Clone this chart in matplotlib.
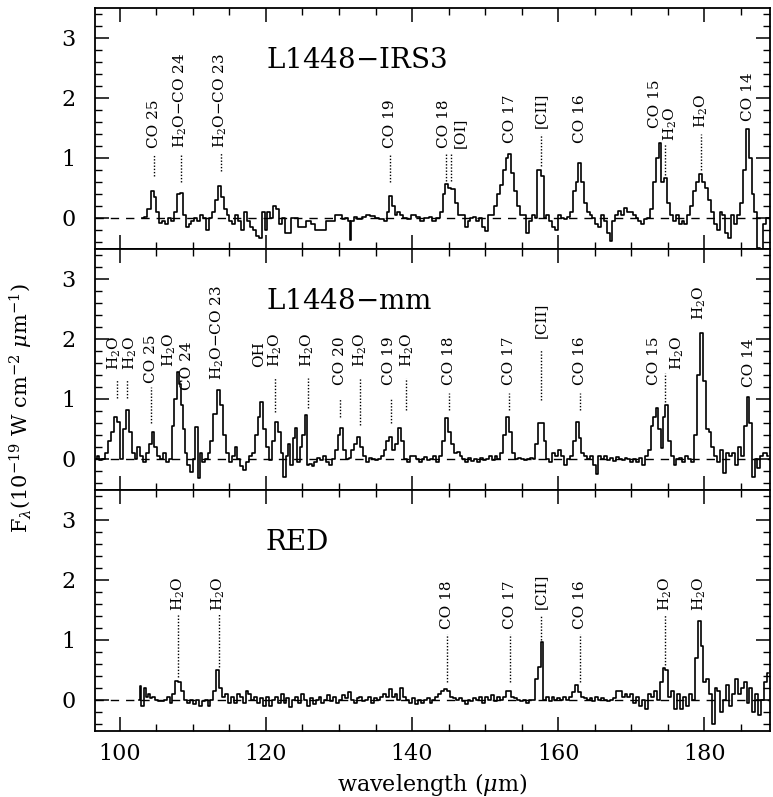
import matplotlib
matplotlib.use('Agg')
import matplotlib.pyplot as plt
from matplotlib.ticker import MultipleLocator

plt.rcParams['font.family'] = 'DejaVu Serif'
plt.rcParams['mathtext.fontset'] = 'dejavuserif'

# ---- spectra (wavelength in micron, flux in 1e-19 W cm-2 um-1) ----
irs3_wl = [103.0, 103.5, 104.0, 104.4, 104.8, 105.2, 105.6, 106.0, 106.4, 106.8, 107.2, 107.6, 108.0, 108.4,
           108.8, 109.2, 109.6, 110.0, 110.4, 110.8, 111.2, 111.6, 112.0, 112.4, 112.8, 113.2, 113.6, 114.0,
           114.4, 114.8, 115.2, 115.6, 116.0, 116.4, 116.8, 117.2, 117.6, 118.0, 118.4, 118.8, 119.2, 119.6,
           120.0, 120.4, 120.8, 121.2, 121.6, 122.0, 122.4, 122.8, 123.2, 123.6, 124.2, 124.6, 125.2, 125.8,
           126.4, 127.0, 127.8, 128.6, 129.2, 129.8, 130.2, 130.6, 131.0, 131.4, 131.6, 131.8, 132.2, 132.8,
           133.4, 134.0, 134.6, 135.2, 135.8, 136.4, 136.8, 137.0, 137.4, 137.8, 138.2, 138.6, 139.0, 139.6,
           140.2, 140.8, 141.4, 142.0, 142.6, 143.0, 143.6, 144.0, 144.4, 144.7, 145.1, 145.6, 146.1, 146.5,
           147.0, 147.4, 147.8, 148.2, 148.6, 149.0, 149.4, 149.8, 150.2, 150.6, 151.0, 151.4, 151.8, 152.2,
           152.6, 153.0, 153.4, 153.8, 154.2, 154.6, 155.0, 155.4, 155.8, 156.2, 156.6, 157.0, 157.3, 157.9,
           158.2, 158.6, 159.0, 159.4, 159.8, 160.2, 160.6, 161.0, 161.4, 161.8, 162.2, 162.6, 162.9, 163.3,
           163.7, 164.1, 164.5, 164.9, 165.3, 165.7, 166.1, 166.5, 166.9, 167.2, 167.6, 168.0, 168.4, 168.8,
           169.2, 169.6, 170.0, 170.4, 170.8, 171.2, 171.6, 172.0, 172.4, 172.8, 173.2, 173.6, 173.9, 174.3,
           174.7, 175.1, 175.5, 175.9, 176.3, 176.7, 177.1, 177.5, 177.9, 178.3, 178.7, 179.1, 179.5, 179.9,
           180.3, 180.7, 181.1, 181.5, 181.9, 182.3, 182.7, 183.1, 183.5, 183.9, 184.3, 184.7, 185.1, 185.5,
           185.9, 186.3, 186.7, 187.0, 187.4, 187.8, 188.2, 188.8, 189.2]
irs3_flux = [0.0, 0.02, 0.15, 0.45, 0.35, 0.1, -0.08, -0.05, -0.1, 0.0, -0.05, 0.1, 0.4, 0.42,
             0.05, -0.15, -0.1, -0.05, 0.0, -0.05, 0.05, 0.0, -0.2, 0.0, 0.1, 0.3, 0.53, 0.35,
             0.15, 0.05, -0.05, -0.1, 0.05, -0.05, -0.2, 0.1, -0.05, -0.15, -0.2, -0.3, -0.33, 0.1,
             -0.2, 0.1, 0.0, 0.2, 0.15, -0.1, 0.0, -0.25, -0.25, 0.0, 0.0, -0.15, -0.15, -0.05,
             -0.1, -0.2, -0.2, -0.05, -0.05, 0.05, 0.05, -0.02, 0.0, -0.05, -0.37, -0.05, 0.02, -0.02,
             0.02, 0.05, 0.03, 0.0, -0.02, -0.05, 0.1, 0.37, 0.2, 0.05, 0.1, 0.05, 0.0, -0.02,
             0.05, 0.02, -0.05, 0.0, 0.02, -0.05, 0.0, 0.1, 0.4, 0.57, 0.5, 0.48, 0.25, 0.05,
             0.05, -0.15, -0.05, 0.0, 0.02, -0.05, 0.0, -0.15, -0.22, 0.05, 0.05, 0.2, 0.4, 0.55,
             0.8, 1.0, 1.07, 0.75, 0.45, 0.2, 0.05, 0.05, -0.25, -0.05, 0.05, 0.0, 0.8, 0.7,
             0.0, 0.05, -0.05, -0.15, -0.2, 0.05, 0.0, -0.02, 0.02, 0.1, 0.45, 0.6, 0.92, 0.6,
             0.25, 0.1, 0.05, 0.0, -0.1, -0.15, 0.05, -0.05, -0.25, -0.38, -0.05, 0.05, 0.12, 0.05,
             0.17, 0.1, 0.1, 0.05, 0.0, -0.05, -0.1, -0.02, 0.0, 0.15, 0.6, 1.0, 1.25, 0.6,
             0.67, 0.25, 0.05, -0.05, 0.05, -0.1, -0.05, -0.1, 0.05, 0.2, 0.45, 0.6, 0.73, 0.6,
             0.5, 0.3, 0.1, -0.1, -0.2, 0.1, 0.05, -0.25, -0.33, 0.05, -0.1, 0.05, 0.25, 0.8,
             1.48, 1.0, 0.4, 0.1, -0.5, -0.65, -0.1, 0.0, 0.0]

mm_wl = [96.6, 97.0, 97.4, 97.8, 98.2, 98.6, 99.0, 99.4, 99.8, 100.2, 100.6, 101.0, 101.4, 101.8,
         102.2, 102.6, 103.0, 103.4, 103.8, 104.2, 104.5, 104.9, 105.3, 105.7, 106.1, 106.5, 106.9, 107.3,
         107.6, 107.9, 108.2, 108.5, 108.8, 109.1, 109.4, 109.8, 110.2, 110.5, 110.8, 111.1, 111.4, 111.8,
         112.2, 112.6, 113.0, 113.5, 113.9, 114.3, 114.7, 115.1, 115.5, 115.9, 116.3, 116.7, 117.1, 117.5,
         117.9, 118.3, 118.7, 119.1, 119.4, 119.8, 120.2, 120.6, 121.0, 121.4, 121.8, 122.2, 122.5, 122.9,
         123.2, 123.5, 123.8, 124.1, 124.4, 124.8, 125.2, 125.5, 125.8, 126.1, 126.4, 126.8, 127.2, 127.6,
         128.0, 128.4, 128.8, 129.2, 129.6, 130.0, 130.3, 130.7, 131.1, 131.5, 131.9, 132.3, 132.7, 133.1,
         133.5, 133.9, 134.3, 134.7, 135.1, 135.5, 135.9, 136.3, 136.7, 137.1, 137.5, 137.9, 138.3, 138.7,
         139.1, 139.5, 139.9, 140.3, 140.7, 141.1, 141.5, 141.9, 142.3, 142.7, 143.1, 143.5, 143.9, 144.3,
         144.7, 145.1, 145.5, 145.9, 146.3, 146.7, 147.1, 147.5, 147.9, 148.3, 148.7, 149.1, 149.5, 149.9,
         150.3, 150.7, 151.1, 151.5, 151.9, 152.3, 152.7, 153.1, 153.5, 153.9, 154.3, 154.7, 155.1, 155.5,
         155.9, 156.3, 156.7, 157.1, 157.4, 157.8, 158.2, 158.6, 159.0, 159.4, 159.8, 160.2, 160.6, 161.0,
         161.4, 161.8, 162.2, 162.6, 163.0, 163.4, 163.8, 164.2, 164.6, 165.0, 165.3, 165.7, 166.1, 166.5,
         166.9, 167.3, 167.7, 168.1, 168.5, 168.9, 169.3, 169.7, 170.1, 170.5, 170.9, 171.3, 171.7, 172.1,
         172.5, 172.9, 173.2, 173.5, 173.9, 174.2, 174.5, 174.8, 175.2, 175.6, 176.0, 176.4, 176.8, 177.2,
         177.6, 178.0, 178.4, 178.8, 179.2, 179.6, 180.0, 180.4, 180.8, 181.2, 181.6, 182.0, 182.4, 182.8,
         183.2, 183.6, 184.0, 184.4, 184.8, 185.2, 185.6, 186.0, 186.4, 186.7, 187.1, 187.5, 187.9, 188.3,
         188.8]
mm_flux = [0.0, 0.05, -0.02, 0.0, 0.1, 0.3, 0.45, 0.7, 0.62, 0.0, 0.5, 0.82, 0.45, 0.1,
           0.0, 0.2, 0.05, -0.05, 0.1, 0.25, 0.45, 0.2, 0.05, 0.0, 0.1, -0.05, 0.0, 0.55,
           1.0, 1.45, 1.25, 0.9, 0.5, 0.1, -0.1, -0.22, 0.0, 0.53, -0.32, 0.1, -0.05, 0.0,
           0.1, 0.3, 0.75, 1.15, 0.9, 0.4, 0.1, -0.05, 0.05, 0.2, 0.0, -0.12, -0.18, -0.05,
           0.05, 0.1, 0.4, 0.7, 0.95, 0.5, 0.2, -0.02, 0.3, 0.62, 0.45, 0.1, -0.3, 0.05,
           0.25, -0.1, 0.35, 0.52, -0.05, 0.2, 0.4, 0.73, -0.1, -0.08, -0.12, -0.05, 0.02, -0.02,
           0.05, -0.05, -0.1, 0.0, 0.15, 0.4, 0.52, 0.15, 0.0, 0.02, 0.15, 0.25, 0.37, 0.2,
           0.05, -0.05, 0.02, 0.0, -0.02, 0.0, 0.05, 0.15, 0.3, 0.37, 0.15, 0.25, 0.52, 0.3,
           0.0, -0.05, 0.05, 0.05, 0.0, -0.05, 0.0, 0.03, -0.02, 0.0, 0.05, -0.05, 0.05, 0.3,
           0.68, 0.45, 0.25, 0.1, 0.12, 0.05, 0.0, -0.05, 0.02, -0.03, 0.0, -0.05, 0.02, -0.02,
           0.0, 0.05, -0.02, 0.05, 0.0, 0.1, 0.4, 0.7, 0.45, 0.1, 0.0, 0.02, 0.0, -0.02,
           0.0, 0.02, 0.0, 0.25, 0.6, 0.6, 0.3, 0.0, -0.05, 0.1, 0.05, 0.15, 0.05, -0.1,
           0.0, 0.05, 0.3, 0.62, 0.35, 0.1, 0.05, 0.0, 0.05, -0.1, -0.25, 0.05, 0.0, 0.05,
           -0.02, 0.02, -0.03, 0.03, 0.0, -0.02, 0.02, 0.0, -0.05, 0.0, -0.05, 0.02, -0.1, 0.05,
           0.15, 0.55, 0.7, 0.85, 0.5, 0.18, 0.7, 0.9, 0.3, 0.05, -0.1, 0.0, 0.02, -0.05,
           0.05, 0.0, -0.05, 0.4, 1.4, 2.1, 1.3, 0.5, 0.45, 0.2, 0.05, -0.05, 0.15, -0.23,
           0.1, 0.05, 0.1, -0.1, 0.2, 0.05, 0.55, 1.03, 0.6, -0.3, 0.0, -0.15, 0.05, 0.1,
           0.05]

red_wl = [102.6, 102.8, 103.1, 103.4, 103.7, 104.0, 104.3, 104.6, 105.0, 105.4, 105.8, 106.2, 106.6, 107.0,
          107.4, 107.8, 108.2, 108.6, 109.0, 109.4, 109.8, 110.2, 110.6, 111.0, 111.4, 111.8, 112.2, 112.6,
          113.0, 113.4, 113.8, 114.2, 114.6, 115.0, 115.4, 115.8, 116.2, 116.6, 117.0, 117.4, 117.8, 118.2,
          118.6, 119.0, 119.4, 119.8, 120.2, 120.6, 121.0, 121.4, 121.8, 122.2, 122.6, 123.0, 123.4, 123.8,
          124.2, 124.6, 125.0, 125.4, 125.8, 126.2, 126.6, 127.0, 127.4, 127.8, 128.2, 128.6, 129.0, 129.4,
          129.8, 130.2, 130.6, 131.0, 131.4, 131.8, 132.2, 132.6, 133.0, 133.4, 133.8, 134.2, 134.6, 135.0,
          135.4, 135.8, 136.2, 136.6, 137.0, 137.4, 137.8, 138.2, 138.6, 139.0, 139.4, 139.8, 140.2, 140.6,
          141.0, 141.4, 141.8, 142.2, 142.6, 143.0, 143.4, 143.8, 144.2, 144.6, 145.0, 145.4, 145.8, 146.2,
          146.6, 147.0, 147.4, 147.8, 148.2, 148.6, 149.0, 149.4, 149.8, 150.2, 150.6, 151.0, 151.4, 151.8,
          152.2, 152.6, 153.0, 153.4, 153.8, 154.2, 154.6, 155.0, 155.4, 155.8, 156.2, 156.6, 157.0, 157.4,
          157.8, 158.1, 158.5, 158.9, 159.3, 159.7, 160.1, 160.5, 160.9, 161.3, 161.7, 162.1, 162.5, 162.9,
          163.3, 163.7, 164.1, 164.5, 164.9, 165.3, 165.7, 166.1, 166.5, 166.9, 167.3, 167.7, 168.1, 168.5,
          168.9, 169.3, 169.7, 170.1, 170.5, 170.9, 171.3, 171.7, 172.1, 172.5, 172.9, 173.3, 173.7, 174.1,
          174.5, 174.9, 175.3, 175.7, 176.1, 176.5, 176.9, 177.3, 177.7, 178.1, 178.5, 178.9, 179.3, 179.7,
          180.1, 180.5, 180.9, 181.3, 181.6, 182.0, 182.4, 182.8, 183.2, 183.6, 184.0, 184.4, 184.8, 185.2,
          185.6, 186.0, 186.4, 186.8, 187.2, 187.6, 188.0, 188.4, 188.8]
red_flux = [0.0, 0.23, -0.1, 0.2, 0.05, 0.1, 0.02, 0.05, 0.0, -0.03, -0.02, 0.0, 0.05, -0.05,
            0.1, 0.31, 0.3, 0.15, 0.0, -0.05, 0.0, -0.08, 0.0, -0.1, -0.02, 0.0, -0.1, 0.0,
            0.15, 0.49, 0.2, 0.05, 0.1, -0.05, 0.05, -0.05, 0.1, 0.05, -0.05, 0.15, 0.1, 0.0,
            0.05, -0.05, 0.02, -0.1, 0.05, -0.1, 0.0, 0.05, -0.05, 0.1, -0.05, 0.02, -0.12, 0.0,
            0.05, -0.05, 0.1, 0.0, -0.1, 0.02, -0.08, 0.0, 0.05, -0.05, 0.0, 0.08, -0.02, 0.05,
            -0.05, 0.0, 0.08, 0.02, 0.12, 0.0, -0.05, 0.02, 0.05, -0.02, 0.0, 0.05, -0.05, 0.02,
            0.0, 0.05, 0.1, 0.05, 0.18, 0.05, 0.1, 0.0, 0.2, 0.05, 0.0, -0.05, 0.02, -0.08,
            0.0, -0.05, 0.0, 0.02, -0.05, 0.0, 0.05, 0.1, 0.15, 0.17, 0.15, 0.05, 0.02, 0.0,
            0.02, -0.02, -0.08, 0.0, -0.03, 0.02, 0.0, 0.05, -0.05, 0.05, 0.0, 0.08, -0.02, 0.05,
            0.0, 0.05, 0.15, 0.14, 0.05, 0.02, 0.0, -0.02, 0.0, -0.05, 0.0, 0.0, 0.35, 0.55,
            0.97, 0.0, 0.05, -0.03, 0.05, 0.0, 0.02, 0.0, 0.05, 0.0, 0.05, 0.12, 0.25, 0.12,
            0.05, 0.02, 0.0, 0.03, -0.02, 0.05, 0.0, 0.02, 0.0, -0.03, 0.0, 0.02, 0.15, 0.15,
            0.05, 0.1, 0.05, 0.1, -0.05, 0.05, -0.1, 0.0, -0.15, 0.1, 0.05, 0.15, 0.0, 0.3,
            0.53, 0.5, 0.05, 0.15, -0.15, 0.1, -0.15, 0.05, -0.1, 0.1, 0.0, 0.7, 1.32, 0.9,
            0.3, 0.35, 0.1, -0.4, 0.2, 0.15, -0.2, 0.0, 0.25, -0.1, 0.1, 0.35, 0.1, 0.2,
            0.3, -0.05, 0.2, -0.2, 0.1, -0.25, 0.0, 0.3, 0.45]

# ---- line identifications: (label, label x, label bottom y, line x, line y0, line y1) ----
irs3_lines = [
    ('CO 25', 104.6, 1.17, 104.6, 0.7, 1.07),
    ('H$_2$O$-$CO 24', 108.3, 1.17, 108.3, 0.6, 1.07),
    ('H$_2$O$-$CO 23', 113.8, 1.17, 113.8, 0.78, 1.1),
    ('CO 19', 137.0, 1.17, 137.0, 0.6, 1.07),
    ('CO 18', 144.4, 1.17, 144.7, 0.62, 1.08),
    ('[OI]', 146.5, 1.17, 145.4, 0.62, 1.08),
    ('CO 17', 153.4, 1.25, None, None, None),
    ('[CII]', 157.6, 1.5, 157.6, 0.87, 1.4),
    ('CO 16', 163.0, 1.25, None, None, None),
    ('CO 15', 173.2, 1.5, None, None, None),
    ('H$_2$O', 175.3, 1.28, 174.7, 0.72, 1.23),
    ('H$_2$O', 179.6, 1.5, 179.6, 0.8, 1.4),
    ('CO 14', 186.0, 1.62, None, None, None),
]
mm_lines = [
    ('H$_2$O', 99.2, 1.48, 99.6, 1.02, 1.32),
    ('H$_2$O', 101.4, 1.48, 101.0, 1.02, 1.32),
    ('CO 25', 104.3, 1.27, 104.3, 0.6, 1.2),
    ('H$_2$O', 106.8, 1.53, None, None, None),
    ('CO 24', 109.2, 1.15, None, None, None),
    ('H$_2$O$-$CO 23', 113.3, 1.32, None, None, None),
    ('OH', 119.0, 1.53, None, None, None),
    ('H$_2$O', 121.3, 1.53, 121.3, 0.78, 1.35),
    ('H$_2$O', 125.7, 1.53, 125.7, 0.85, 1.35),
    ('CO 20', 130.2, 1.23, 130.2, 0.7, 1.02),
    ('H$_2$O', 132.9, 1.53, 132.9, 0.57, 1.35),
    ('CO 19', 136.9, 1.23, 137.1, 0.6, 1.02),
    ('H$_2$O', 139.4, 1.53, 139.2, 0.82, 1.35),
    ('CO 18', 145.0, 1.23, 145.0, 0.82, 1.1),
    ('CO 17', 153.3, 1.23, 153.3, 0.82, 1.1),
    ('[CII]', 157.6, 2.02, 157.6, 0.98, 1.82),
    ('CO 16', 163.0, 1.23, 163.0, 0.82, 1.1),
    ('CO 15', 173.1, 1.23, None, None, None),
    ('H$_2$O', 176.3, 1.48, 174.7, 0.95, 1.43),
    ('H$_2$O', 179.4, 2.32, None, None, None),
    ('CO 14', 186.1, 1.2, None, None, None),
]
red_lines = [
    ('H$_2$O', 108.0, 1.48, 108.0, 0.38, 1.43),
    ('H$_2$O', 113.5, 1.48, 113.5, 0.55, 1.43),
    ('CO 18', 144.8, 1.18, 144.8, 0.3, 1.1),
    ('CO 17', 153.4, 1.18, 153.4, 0.3, 1.1),
    ('[CII]', 157.7, 1.52, 157.7, 1.0, 1.4),
    ('CO 16', 163.0, 1.18, 163.0, 0.3, 1.1),
    ('H$_2$O', 174.7, 1.48, 174.7, 0.58, 1.43),
    ('H$_2$O', 179.4, 1.48, None, None, None),
]

panels = [
    ('L1448$-$IRS3', irs3_wl, irs3_flux, irs3_lines),
    ('L1448$-$mm', mm_wl, mm_flux, mm_lines),
    ('RED', red_wl, red_flux, red_lines),
]

fig, axes = plt.subplots(3, 1, sharex=True, figsize=(7.73, 7.97), dpi=100)
fig.subplots_adjust(left=0.123, right=0.996, top=0.99, bottom=0.083, hspace=0)

for ax, (name, wl, flux, lines) in zip(axes, panels):
    ax.axhline(0, color='black', lw=1.0, ls=(0, (6, 5)), zorder=1)
    ax.step(wl, flux, where='mid', color='black', lw=1.2, zorder=2)
    for label, lx, ly, x0, y0, y1 in lines:
        if x0 is not None:
            ax.plot([x0, x0], [y0, y1], color='black', lw=1.0, ls=(0, (1, 1.3)))
        ax.text(lx, ly, label, rotation=90, ha='center', va='bottom', fontsize=11)
    ax.text(120, 2.62, name, fontsize=20, va='center', ha='left')
    ax.set_xlim(96.6, 189)
    ax.set_ylim(-0.52, 3.5)
    ax.xaxis.set_major_locator(MultipleLocator(20))
    ax.xaxis.set_minor_locator(MultipleLocator(5))
    ax.yaxis.set_major_locator(MultipleLocator(1))
    ax.yaxis.set_minor_locator(MultipleLocator(0.2))
    ax.tick_params(which='both', direction='in', top=True, right=True, labelsize=16)
    ax.tick_params(which='major', length=10, width=1.1)
    ax.tick_params(which='minor', length=5, width=1.0)
    ax.tick_params(axis='y', pad=14)
    ax.tick_params(axis='x', pad=9)
    ax.set_yticks([0, 1, 2, 3])
    for sp in ax.spines.values():
        sp.set_linewidth(1.3)

axes[2].set_xlabel(r'wavelength ($\mu$m)', fontsize=16, labelpad=4)
fig.text(0.028, 0.488, r'F$_\lambda$(10$^{-19}$ W cm$^{-2}$ $\mu$m$^{-1}$)',
         rotation=90, ha='center', va='center', fontsize=15)

fig.savefig('out.png')
